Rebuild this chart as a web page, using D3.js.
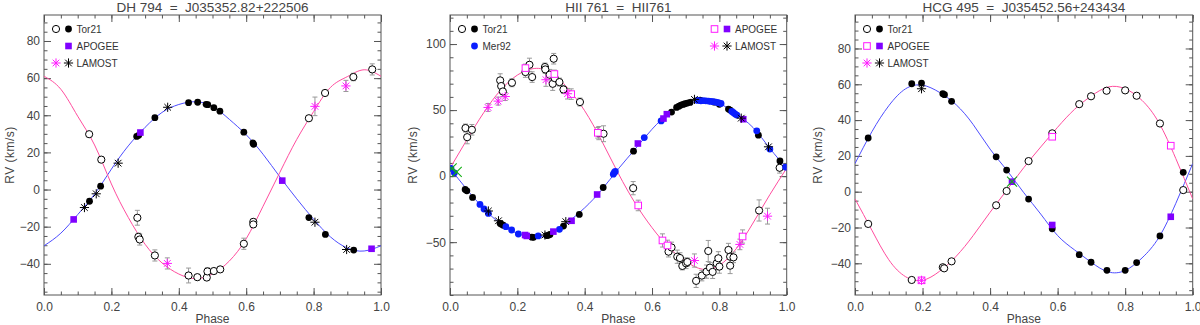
<!DOCTYPE html>
<html>
<head>
<meta charset="utf-8">
<script src="https://cdn.jsdelivr.net/npm/d3@7"></script>
<style>
body { margin: 0; background: #fff; }
svg { font-family: "Liberation Sans", Arial, sans-serif; }
.axis path { display: none; }
.axis line { stroke: #555; }
.axis text { fill: #444; font-size: 12px; font-family: "Liberation Sans", Arial, sans-serif; }
</style>
</head>
<body>
<svg width="1200" height="325"></svg>
<script>

// ---- shared ticks / grid
let phaseTicks = [0, 0.2, 0.4, 0.6, 0.8, 1.0];
let phaseGrid = [0, 0.05, 0.1, 0.15, 0.2, 0.25, 0.3, 0.35, 0.4, 0.45, 0.5,
                 0.55, 0.6, 0.65, 0.7, 0.75, 0.8, 0.85, 0.9, 0.95, 1.0];
let rvTicksA = [-40, -20, 0, 20, 40, 60, 80];
let rvTicksB = [-50, 0, 50, 100];

// ---- DH 794
let dh_title = "DH 794  =  J035352.82+222506";
let dh_fitPrim = [-30.3, -23.5, -13.5, -2.5, 11, 23.5, 33.5, 41.5, 45.8, 47.3, 44.8,
                  37.8, 29.5, 19, 6.8, -5, -16, -25.5, -31.5, -33.1, -30.3];
let dh_fitSec = [61, 54, 39.5, 24, 3, -15, -29.5, -39.5, -45.5, -48, -45.5,
                 -38.5, -26.5, -9, 9.3, 27, 42, 55, 60.8, 64.5, 61];
let dh_torPrim = [[0.135,-6.3],[0.168,1.8],[0.275,28.6],[0.281,29.2],[0.329,38.7],[0.429,46.8],
                  [0.456,47.0],[0.481,45.9],[0.486,45.7],[0.504,44.1],[0.522,42.2],[0.593,30.9],
                  [0.620,25.1],[0.622,24.4],[0.786,-15.1],[0.835,-24.2],[0.919,-32.6]];
let dh_lamPrim = [[0.120,-9.7],[0.155,-2.3],[0.220,14.2],[0.367,44.3],[0.804,-17.6],[0.898,-32.3]];
let dh_apoPrim = [[0.088,-16.1],[0.286,30.7],[0.707,4.8],[0.972,-31.9]];
let dh_torSec = [[0.134,29.8,1.5],[0.170,16.1,1.5],[0.277,-15.2,4],[0.280,-25.5,2],[0.284,-26.9,3],
                 [0.329,-35.5,3],[0.429,-46.3,4],[0.455,-47.2,1.5],[0.483,-47.4,1.5],[0.485,-44.1,2],
                 [0.504,-43.9,1.5],[0.523,-43.0,1.5],[0.593,-29.2,3],[0.621,-17.4,1.5],[0.621,-18.8,1.5],
                 [0.786,38.4,1.5],[0.834,52.0,1.5],[0.918,60.6,2],[0.974,64.7,3]];
let dh_lamSec = [[0.366,-39.8,3],[0.804,44.8,5],[0.896,55.8,3]];

// ---- HII 761
let hii_title = "HII 761  =  HII761";
let hii_fitPrim = [6, -10, -24.5, -36, -43.4, -46, -44, -35, -24, -10.5, 5.5,
                   20.5, 35.5, 47.5, 54.5, 57, 55, 47, 36.8, 21, 6];
let hii_fitSec = [6, 27.5, 48, 65, 76.5, 81.5, 78.5, 66.5, 49.5, 27, 2,
                  -20.5, -39, -54, -64.5, -70.5, -67.5, -55, -35.5, -14, 6];
let hii_torPrim = [[0.045,-10.1],[0.050,-11.1],[0.067,-16.1],[0.149,-35.8],[0.153,-36.5],[0.158,-37.2],
                   [0.243,-46.2],[0.248,-46.3],[0.287,-45.0],[0.292,-44.8],[0.297,-44.2],[0.337,-37.8],
                   [0.384,-29.0],[0.455,-8.6],[0.545,18.9],[0.658,48.5],[0.673,52.0],[0.680,53.0],
                   [0.686,53.8],[0.692,54.3],[0.698,54.8],[0.705,55.3],[0.713,55.8],[0.743,57.5],
                   [0.785,56.0],[0.800,54.4],[0.827,50.8],[0.832,50.0],[0.916,31.0],[0.980,11.5]];
let hii_merPrim = [[0.003,5.8],[0.013,2.5],[0.089,-21.4],[0.101,-24.9],[0.114,-28.2],[0.166,-38.3],
                   [0.183,-40.8],[0.203,-43.8],[0.262,-45.3],[0.325,-40.3],[0.485,1.5],[0.488,2.8],
                   [0.491,3.6],[0.577,29.2],[0.627,41.8],[0.735,57.3],[0.745,57.0],[0.752,57.2],
                   [0.760,57.0],[0.768,56.8],[0.775,56.6],[0.782,56.4],[0.790,56.0],[0.797,55.6],
                   [0.805,55.0],[0.837,49.0],[0.842,48.0],[0.847,47.0],[0.852,46.2],[0.911,34.3],
                   [0.950,20.5],[0.997,6.8]];
let hii_apoPrim = [[0.223,-44.6],[0.228,-45.3],[0.307,-42.0],[0.361,-33.8],[0.437,-13.9],[0.558,24.7],
                   [0.634,43.6],[0.644,46.9],[0.871,43.1]];
let hii_lamPrim = [[0.114,-26.4],[0.144,-33.8],[0.282,-44.6],[0.344,-34.5],[0.726,58.1],[0.865,43.9],[0.946,22.2]];
let hii_other = [[0.005,5.8],[0.020,3.3]];
let hii_torSec = [[0.046,36.4,3],[0.051,29.5,5],[0.065,35.1,4],[0.149,72.5,5],[0.152,68.2,4],[0.157,64.1,4],
                  [0.184,70.7,3],[0.224,78.8,4],[0.236,84.3,5],[0.244,75.0,4],[0.282,82.6,3],[0.283,80.8,3],
                  [0.296,76.8,4],[0.305,69.9,5],[0.308,88.9,4],[0.311,74.2,3],[0.325,71.2,3],[0.337,65.6,3],
                  [0.386,56.1,3],[0.442,32.6,5],[0.456,32.1,6],[0.544,-9.1,5],[0.649,-57.2,4],[0.658,-54.0,4],
                  [0.675,-61.0,5],[0.683,-62.0,4],[0.690,-68.0,3],[0.701,-66.0,4],[0.705,-65.0,3],[0.731,-79.3,5],
                  [0.748,-75.3,4],[0.762,-72.3,5],[0.767,-56.7,8],[0.772,-69.3,4],[0.780,-72.5,5],[0.792,-66.0,5],
                  [0.797,-62.2,5],[0.800,-68.5,5],[0.827,-55.9,5],[0.832,-61.0,6],[0.832,-67.8,6],[0.842,-61.5,4],
                  [0.918,-26.0,8],[0.979,6.3,4]];
let hii_apoSec = [[0.224,81.8,3],[0.310,77.3,3],[0.360,62.1,4],[0.439,32.8,4],[0.559,-22.2,4],
                  [0.631,-48.7,5],[0.646,-52.5,4],[0.869,-45.7,5]];
let hii_lamSec = [[0.113,52.0,3],[0.143,56.8,3],[0.164,60.3,3],[0.285,73.0,5],[0.349,62.4,4],
                  [0.726,-63.9,5],[0.861,-51.7,4],[0.943,-30.3,6]];

// ---- HCG 495
let hcg_title = "HCG 495  =  J035452.56+243434";
let hcg_fitPrim = [15.7, 33.5, 48, 57.5, 59.5, 55.5, 48.5, 37.5, 23.8, 11.9, -0.6,
                   -12.5, -24.5, -32.5, -39.5, -44.8, -44, -37, -25.5, -6.5, 15.7];
let hcg_fitSec = [-4, -21.5, -38, -47.5, -49.5, -44.5, -36, -24.5, -11.5, 1, 13.5,
                  25, 36, 46, 53.5, 58.5, 57.5, 51, 38.5, 18.5, -4];
let hcg_torPrim = [[0.039,30.0],[0.168,60.3],[0.197,60.7],[0.260,54.7],[0.265,54.2],[0.286,50.5],
                   [0.418,19.5],[0.449,12.1],[0.514,-4.1],[0.584,-20.7],[0.664,-35.2],[0.699,-39.4],
                   [0.746,-43.9],[0.800,-43.9],[0.834,-39.6],[0.903,-24.7],[0.972,10.8]];
let hcg_lamPrim = [[0.197,57.5]];
let hcg_apoPrim = [[0.465,5.6],[0.584,-18.6],[0.935,-14.0]];
let hcg_other = [[0.465,5.6]];
let hcg_torSec = [[0.039,-18.0],[0.168,-49.3],[0.260,-42.2],[0.264,-42.8],[0.286,-38.9],[0.418,-7.6],
                  [0.449,0.4],[0.514,17.1],[0.584,32.6],[0.664,48.9],[0.699,53.3],[0.745,56.4],
                  [0.800,56.6],[0.834,53.6],[0.903,38.1],[0.972,0.9]];
let hcg_apoSec = [[0.197,-49.5],[0.584,30.7,1.5],[0.935,25.7]];
let hcg_lamSec = [[0.197,-49.5]];


let svg = d3.select("svg"),
    plotTop = 15, plotBottom = 295;

let colBlue = "#4d4dff", colPink = "#ff4d9e", colPurple = "#8000ff",
    colMer = "#0a1eff", colMag = "#ff1aff", colGreen = "#13b013";

function asterisk(r) {
    let a = r * 0.72;
    return "M" + (-r) + ",0L" + r + ",0M0," + (-r) + "L0," + r +
           "M" + (-a) + "," + (-a) + "L" + a + "," + a + "M" + (-a) + "," + a + "L" + a + "," + (-a);
}
function cross(r) {
    return "M" + (-r) + "," + (-r) + "L" + r + "," + r + "M" + (-r) + "," + r + "L" + r + "," + (-r);
}

// marker painters: g, cx, cy
let markers = {
    open: function(g, cx, cy) {
        g.append("circle").attr("cx", cx).attr("cy", cy).attr("r", 3.6)
            .attr("fill", "#fff").attr("stroke", "#000").attr("stroke-width", 1);
    },
    filled: function(g, cx, cy) {
        g.append("circle").attr("cx", cx).attr("cy", cy).attr("r", 3.4).attr("fill", "#000");
    },
    mer: function(g, cx, cy) {
        g.append("circle").attr("cx", cx).attr("cy", cy).attr("r", 3.4).attr("fill", colMer);
    },
    apoFill: function(g, cx, cy) {
        g.append("rect").attr("x", cx - 3.3).attr("y", cy - 3.3).attr("width", 6.6).attr("height", 6.6)
            .attr("fill", colPurple);
    },
    apoOpen: function(g, cx, cy) {
        g.append("rect").attr("x", cx - 3.3).attr("y", cy - 3.3).attr("width", 6.6).attr("height", 6.6)
            .attr("fill", "#fff").attr("stroke", colMag).attr("stroke-width", 1);
    },
    lamBlack: function(g, cx, cy) {
        g.append("path").attr("d", asterisk(4.6)).attr("transform", "translate(" + cx + "," + cy + ")")
            .attr("fill", "none").attr("stroke", "#000").attr("stroke-width", 1);
    },
    lamMag: function(g, cx, cy) {
        g.append("path").attr("d", asterisk(4.6)).attr("transform", "translate(" + cx + "," + cy + ")")
            .attr("fill", "none").attr("stroke", colMag).attr("stroke-width", 1);
    },
    green: function(g, cx, cy) {
        g.append("path").attr("d", cross(5)).attr("transform", "translate(" + cx + "," + cy + ")")
            .attr("fill", "none").attr("stroke", colGreen).attr("stroke-width", 1.1);
    }
};

let panels = [
    {title: dh_title, left: 44, right: 381, yDomain: [-56.8, 94], yTicks: rvTicksA, yMinorStep: 5,
     ylabX: 10, fitPrim: dh_fitPrim, fitSec: dh_fitSec,
     sets: [[dh_torSec, "open"], [dh_lamSec, "lamMag"], [dh_torPrim, "filled"],
            [dh_lamPrim, "lamBlack"], [dh_apoPrim, "apoFill"]],
     legend: [{dx: 0, dy: 0, syms: ["open", "filled"], text: "Tor21"},
              {dx: 0, dy: 17, syms: [null, "apoFill"], text: "APOGEE"},
              {dx: 0, dy: 34, syms: ["lamMag", "lamBlack"], text: "LAMOST"}]},
    {title: hii_title, left: 450, right: 786.7, yDomain: [-90, 122], yTicks: rvTicksB, yMinorStep: 10,
     ylabX: 413, fitPrim: hii_fitPrim, fitSec: hii_fitSec,
     sets: [[hii_torSec, "open"], [hii_apoSec, "apoOpen"], [hii_lamSec, "lamMag"],
            [hii_torPrim, "filled"], [hii_merPrim, "mer"], [hii_apoPrim, "apoFill"],
            [hii_lamPrim, "lamBlack"], [hii_other, "green"]],
     legend: [{dx: 0, dy: 0, syms: ["open", "filled"], text: "Tor21"},
              {dx: 0, dy: 17, syms: [null, "mer"], text: "Mer92"},
              {dx: 252.5, dy: 0, syms: ["apoOpen", "apoFill"], text: "APOGEE"},
              {dx: 252.5, dy: 17, syms: ["lamMag", "lamBlack"], text: "LAMOST"}]},
    {title: hcg_title, left: 855, right: 1192.7, yDomain: [-57.7, 98.7], yTicks: rvTicksA, yMinorStep: 5,
     ylabX: 818, fitPrim: hcg_fitPrim, fitSec: hcg_fitSec,
     sets: [[hcg_torSec, "open"], [hcg_apoSec, "apoOpen"], [hcg_lamSec, "lamMag"],
            [hcg_torPrim, "filled"], [hcg_lamPrim, "lamBlack"], [hcg_apoPrim, "apoFill"],
            [hcg_other, "green"]],
     legend: [{dx: 0, dy: 0, syms: ["open", "filled"], text: "Tor21"},
              {dx: 0, dy: 17, syms: ["apoOpen", "apoFill"], text: "APOGEE"},
              {dx: 0, dy: 34, syms: ["lamMag", "lamBlack"], text: "LAMOST"}]}
];

panels.forEach(function(p, i) {
    let g = svg.append("g");
    let x = d3.scaleLinear().domain([0, 1]).range([p.left, p.right]);
    let y = d3.scaleLinear().domain(p.yDomain).range([plotBottom, plotTop]);

    let phaseMinor = d3.range(0, 1.0001, 0.05);
    let yMinor = d3.range(Math.ceil(p.yDomain[0] / p.yMinorStep) * p.yMinorStep, p.yDomain[1], p.yMinorStep);

    // clip
    svg.append("clipPath").attr("id", "clip" + i)
        .append("rect").attr("x", p.left).attr("y", plotTop)
        .attr("width", p.right - p.left).attr("height", plotBottom - plotTop);

    // axes (ticks inward on all four sides)
    g.append("g").attr("class", "axis").attr("transform", "translate(0," + plotBottom + ")")
        .call(d3.axisBottom(x).tickValues(phaseMinor).tickSize(-3.5).tickFormat(""));
    g.append("g").attr("class", "axis").attr("transform", "translate(0," + plotBottom + ")")
        .call(d3.axisBottom(x).tickValues(phaseTicks).tickSize(-7).tickPadding(7).tickFormat(d3.format(".1f")));
    g.append("g").attr("class", "axis").attr("transform", "translate(0," + plotTop + ")")
        .call(d3.axisTop(x).tickValues(phaseMinor).tickSize(-3.5).tickFormat(""));
    g.append("g").attr("class", "axis").attr("transform", "translate(0," + plotTop + ")")
        .call(d3.axisTop(x).tickValues(phaseTicks).tickSize(-7).tickFormat(""));

    g.append("g").attr("class", "axis").attr("transform", "translate(" + p.left + ",0)")
        .call(d3.axisLeft(y).tickValues(yMinor).tickSize(-3.5).tickFormat(""));
    g.append("g").attr("class", "axis").attr("transform", "translate(" + p.left + ",0)")
        .call(d3.axisLeft(y).tickValues(p.yTicks).tickSize(-7).tickPadding(4));
    g.append("g").attr("class", "axis").attr("transform", "translate(" + p.right + ",0)")
        .call(d3.axisRight(y).tickValues(yMinor).tickSize(-3.5).tickFormat(""));
    g.append("g").attr("class", "axis").attr("transform", "translate(" + p.right + ",0)")
        .call(d3.axisRight(y).tickValues(p.yTicks).tickSize(-7).tickFormat(""));

    g.append("rect").attr("x", p.left).attr("y", plotTop)
        .attr("width", p.right - p.left).attr("height", plotBottom - plotTop)
        .attr("fill", "none").attr("stroke", "#555").attr("stroke-width", 1);

    // fitted orbits
    let line = d3.line()
        .x(function(d, j) { return x(phaseGrid[j]); })
        .y(function(d) { return y(d); })
        .curve(d3.curveNatural);
    let plot = g.append("g").attr("clip-path", "url(#clip" + i + ")");
    plot.append("path").datum(p.fitPrim).attr("d", line)
        .attr("fill", "none").attr("stroke", colBlue).attr("stroke-width", 1);
    plot.append("path").datum(p.fitSec).attr("d", line)
        .attr("fill", "none").attr("stroke", colPink).attr("stroke-width", 1);

    // error bars
    p.sets.forEach(function(s) {
        s[0].forEach(function(d) {
            if (d.length < 3) return;
            let cx = x(d[0]), y0 = y(d[1] - d[2]), y1 = y(d[1] + d[2]);
            plot.append("path")
                .attr("d", "M" + cx + "," + y0 + "L" + cx + "," + y1 +
                           "M" + (cx - 2.5) + "," + y0 + "L" + (cx + 2.5) + "," + y0 +
                           "M" + (cx - 2.5) + "," + y1 + "L" + (cx + 2.5) + "," + y1)
                .attr("stroke", "#999").attr("stroke-width", 1).attr("fill", "none");
        });
    });

    // points
    p.sets.forEach(function(s) {
        s[0].forEach(function(d) {
            markers[s[1]](plot, x(d[0]), y(d[1]));
        });
    });

    // legend
    p.legend.forEach(function(l) {
        let lx = p.left + 12 + l.dx, ly = 29 + l.dy;
        l.syms.forEach(function(sym, k) {
            if (sym) markers[sym](g, lx + k * 12.5, ly);
        });
        g.append("text").attr("x", lx + 20.5).attr("y", ly).attr("dy", "0.36em")
            .attr("fill", "#333").style("font-size", "10px").text(l.text);
    });

    // titles
    svg.append("text").attr("x", (p.left + p.right) / 2).attr("y", 12)
        .attr("text-anchor", "middle").attr("fill", "#444").style("font-size", "13.5px")
        .style("white-space", "pre").text(p.title);
    svg.append("text").attr("x", (p.left + p.right) / 2).attr("y", 323)
        .attr("text-anchor", "middle").attr("fill", "#444").style("font-size", "12px")
        .text("Phase");
    svg.append("text")
        .attr("transform", "translate(" + p.ylabX + "," + ((plotTop + plotBottom) / 2) + ") rotate(-90)")
        .attr("dy", "0.36em").attr("text-anchor", "middle").attr("fill", "#444")
        .style("font-size", "12px").style("letter-spacing", "0.5px").text("RV (km/s)");
});

</script>
</body>
</html>
